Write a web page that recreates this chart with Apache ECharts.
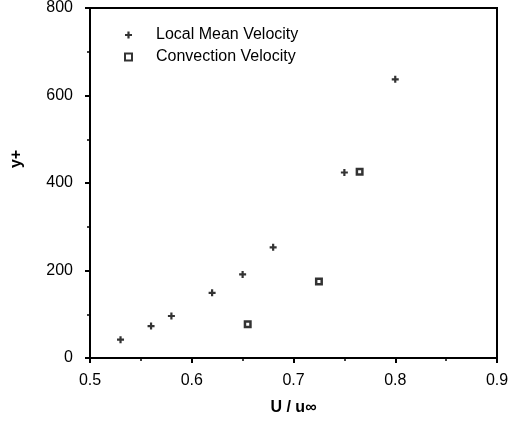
<!DOCTYPE html>
<html>
<head>
<meta charset="utf-8">
<script src="https://cdn.jsdelivr.net/npm/echarts@6/dist/echarts.min.js"></script>
<style>
  html, body { margin: 0; padding: 0; background: #fff; }
  #chart { width: 513px; height: 421px; }
</style>
</head>
<body>
<div id="chart"></div>
<script>
// Velocity ratio U/u∞ against wall distance y+
const localMeanU = [0.53, 0.56, 0.58, 0.62, 0.65, 0.68, 0.75, 0.80];
const localMeanY = [42, 73, 96, 149, 191, 253, 424, 637];
const convectionU = [0.655, 0.725, 0.765];
const convectionY = [77, 175, 426];
const xTicks = [0.5, 0.6, 0.7, 0.8, 0.9];
const yTicks = [0, 200, 400, 600, 800];

const plusPath = 'path://M2.4,0H4.6V2.4H7V4.6H4.6V7H2.4V4.6H0V2.4H2.4Z';
const font = '"Liberation Sans", Arial, Helvetica, sans-serif';

const chart = echarts.init(document.getElementById('chart'), null, { renderer: 'canvas' });

const axisCommon = {
  axisLine: { show: true, onZero: false, lineStyle: { color: '#000', width: 2 } },
  axisTick: { show: true, inside: false, length: 5, lineStyle: { color: '#000', width: 2 } },
  minorTick: { show: true, splitNumber: 2, length: 3, lineStyle: { color: '#000', width: 1.5 } },
  splitLine: { show: false }
};

chart.setOption({
  animation: false,
  backgroundColor: '#fff',
  grid: { left: 90, right: 16, top: 8, bottom: 61, show: true, borderColor: '#000', borderWidth: 2 },
  legend: {
    orient: 'vertical',
    left: 119,
    top: 22,
    itemWidth: 7,
    itemHeight: 7,
    itemGap: 6,
    textStyle: { color: '#000', fontFamily: font, fontSize: 16, lineHeight: 15, padding: [0, 0, 0, 19] },
    data: [
      { name: 'Local Mean Velocity', icon: plusPath },
      { name: 'Convection Velocity', icon: 'rect' }
    ]
  },
  xAxis: Object.assign({}, axisCommon, {
    type: 'value',
    min: xTicks[0],
    max: xTicks[xTicks.length - 1],
    interval: 0.1,
    name: 'U / u∞',
    nameLocation: 'middle',
    nameGap: 42,
    nameTextStyle: { color: '#000', fontFamily: font, fontWeight: 'bold', fontSize: 16 },
    axisLabel: {
      color: '#000', fontFamily: font, fontSize: 16, margin: 15,
      formatter: v => xTicks.some(t => Math.abs(t - v) < 1e-9) ? v.toFixed(1) : ''
    }
  }),
  yAxis: Object.assign({}, axisCommon, {
    type: 'value',
    min: yTicks[0],
    max: yTicks[yTicks.length - 1],
    interval: 200,
    name: 'y+',
    nameLocation: 'middle',
    nameRotate: 90,
    nameGap: 65,
    nameTextStyle: { color: '#000', fontFamily: font, fontWeight: 'bold', fontSize: 16, padding: [0, 0, 0, 48] },
    axisLabel: { color: '#000', fontFamily: font, fontSize: 16, margin: 17, padding: [5, 0, 0, 0] }
  }),
  series: [
    {
      name: 'Local Mean Velocity',
      type: 'scatter',
      symbol: plusPath,
      symbolSize: 7,
      itemStyle: { color: '#000' },
      data: localMeanU.map((u, i) => [u, localMeanY[i]])
    },
    {
      name: 'Convection Velocity',
      type: 'scatter',
      symbol: 'rect',
      symbolSize: 5.5,
      itemStyle: { color: '#fff', borderColor: '#000', borderWidth: 2.5 },
      data: convectionU.map((u, i) => [u, convectionY[i]])
    }
  ]
});
</script>
</body>
</html>
